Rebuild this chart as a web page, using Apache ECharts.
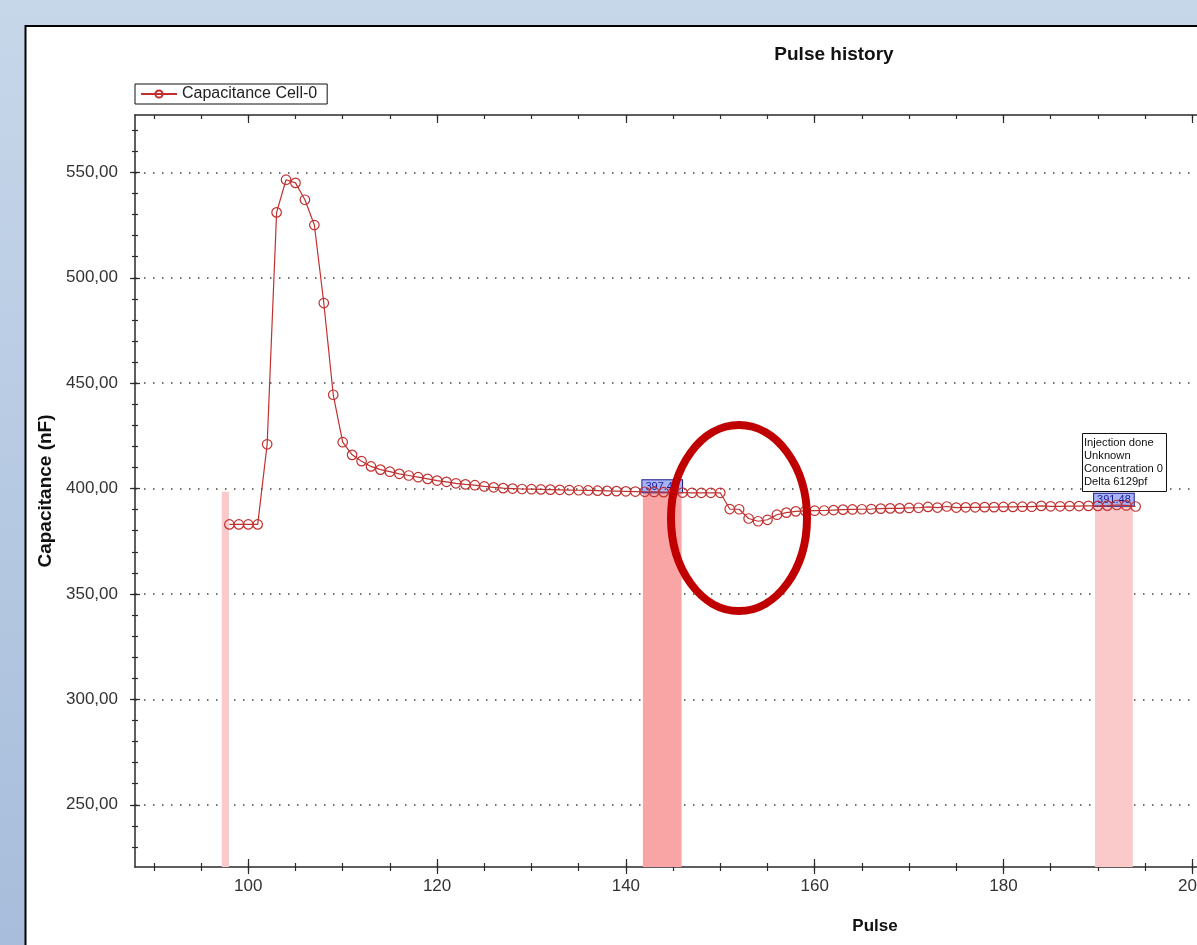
<!DOCTYPE html>
<html>
<head>
<meta charset="utf-8">
<title>Pulse history</title>
<script src="https://cdn.jsdelivr.net/npm/echarts@6/dist/echarts.min.js"></script>
<style>
  html, body { margin: 0; padding: 0; }
  #chart { width: 1197px; height: 945px; }
</style>
</head>
<body>
<div id="chart"></div>
<script>
  // pulse numbers and capacitance readings (nF)
  const pulses = []
  for (let p = 98; p <= 194; p++) pulses.push(p)
  const capacitance = [
    383, 383, 383, 383, 421, 531, 546.5, 545, 537, 525,
    488, 444.5, 422, 416, 413, 410.5, 409, 408, 407, 406.2,
    405.4, 404.6, 403.8, 403.2, 402.5, 402, 401.6, 401, 400.6, 400.2,
    400, 399.8, 399.7, 399.6, 399.5, 399.4, 399.3, 399.2, 399.1, 399,
    398.9, 398.8, 398.7, 398.6, 398.5, 398.4, 398.3, 398.2, 398.1, 398,
    398, 398, 398, 390.3, 390.2, 385.8, 384.5, 385.2, 387.6, 388.6,
    389.2, 389.4, 389.5, 389.6, 389.8, 390, 390.1, 390.2, 390.3, 390.5,
    390.6, 390.6, 390.8, 390.9, 391.3, 391, 391.5, 391, 391.1, 391.1,
    391.2, 391.2, 391.3, 391.3, 391.4, 391.4, 391.8, 391.6, 391.6, 391.7,
    391.7, 391.8, 391.8, 391.9, 392.2, 392, 391.5
  ]

  // highlighted pulse ranges
  const bandStart = [97.2, 141.8, 189.7]
  const bandEnd = [97.95, 145.9, 193.7]
  const bandTop = [398.5, 398.3, 391.8]
  const bandLabel = ['', '397.45', '391.48']
  const bandColor = ['#fac9c9', '#f9a5a5', '#fac9c9']

  // axis ranges and ticks
  const xMin = 88, xMax = 200.5
  const yMin = 220.5, yMax = 577.2
  const xMajor = [100, 120, 140, 160, 180, 200]
  const xMinor = []
  for (let v = 90; v <= 200; v += 5) xMinor.push(v)
  const yMajor = [250, 300, 350, 400, 450, 500, 550]
  const yMinor = []
  for (let v = 230; v <= 570; v += 10) yMinor.push(v)

  const FONT = 'Liberation Sans, Arial, sans-serif'
  const AXIS_COLOR = '#2a2a2a'
  const LINE_RED = '#c0302f'

  const chart = echarts.init(document.getElementById('chart'))

  // extra axis only used to draw tick marks
  function tickAxis(kind, pos, ticks, len, inside, showLine) {
    return {
      type: 'value',
      position: pos,
      min: kind === 'x' ? xMin : yMin,
      max: kind === 'x' ? xMax : yMax,
      axisLine: { show: !!showLine, onZero: false, lineStyle: { color: AXIS_COLOR, width: 1.5 } },
      axisTick: { show: true, inside: inside, length: len, customValues: ticks, lineStyle: { color: AXIS_COLOR, width: 1.2 } },
      axisLabel: { show: false },
      splitLine: { show: false },
    }
  }

  const bands = bandStart.map((s, i) => [
    {
      name: bandLabel[i],
      xAxis: s,
      yAxis: yMin,
      itemStyle: { color: bandColor[i] },
      label: { show: bandLabel[i] !== '' },
    },
    { xAxis: bandEnd[i], yAxis: bandTop[i] },
  ])

  const option = {
    animation: false,
    backgroundColor: new echarts.graphic.LinearGradient(0, 0, 0, 1, [
      { offset: 0, color: '#c7d7ea' },
      { offset: 1, color: '#a7bddb' },
    ]),
    textStyle: { fontFamily: FONT },
    grid: { left: 135, right: 0, top: 115, bottom: 78, outerBoundsMode: 'none', containLabel: false },
    legend: {
      left: 135,
      top: 84,
      padding: [2, 10, 2, 5],
      borderColor: '#111',
      borderWidth: 1,
      backgroundColor: '#fff',
      itemWidth: 36,
      itemHeight: 9,
      itemGap: 6,
      textStyle: { fontSize: 16, color: '#222' },
      data: ['Capacitance Cell-0'],
    },
    xAxis: [
      {
        type: 'value',
        min: xMin,
        max: xMax,
        axisLine: { onZero: false, lineStyle: { color: AXIS_COLOR, width: 1.5 } },
        axisTick: { length: 7, customValues: xMajor, lineStyle: { color: AXIS_COLOR, width: 1.2 } },
        axisLabel: { customValues: xMajor, margin: 11, fontSize: 17, color: '#333' },
        splitLine: { show: false },
      },
      tickAxis('x', 'bottom', xMajor, 8, true),
      tickAxis('x', 'bottom', xMinor, 4, false),
      tickAxis('x', 'bottom', xMinor, 4, true),
      tickAxis('x', 'top', xMinor, 4, true, true),
      tickAxis('x', 'top', xMajor, 8, true),
    ],
    yAxis: [
      {
        type: 'value',
        min: yMin,
        max: yMax,
        name: 'Capacitance (nF)',
        nameLocation: 'middle',
        nameGap: 78,
        nameTextStyle: { fontSize: 19, fontWeight: 'bold', color: '#111' },
        axisLine: { onZero: false, lineStyle: { color: AXIS_COLOR, width: 1.5 } },
        axisTick: { length: 5, customValues: yMajor, lineStyle: { color: AXIS_COLOR, width: 1.2 } },
        axisLabel: {
          customValues: yMajor,
          margin: 17,
          fontSize: 17,
          color: '#333',
          formatter: (v) => v.toFixed(2).replace('.', ','),
        },
        splitLine: { show: true, lineStyle: { color: '#444', width: 1.5, type: [1.5, 7.5] } },
      },
      tickAxis('y', 'left', yMajor, 5, true),
      tickAxis('y', 'left', yMinor, 3, false),
      tickAxis('y', 'left', yMinor, 3, true),
    ],
    series: [
      {
        name: 'Capacitance Cell-0',
        type: 'line',
        data: pulses.map((p, i) => [p, capacitance[i]]),
        symbol: 'circle',
        symbolSize: 9.5,
        lineStyle: { color: LINE_RED, width: 1.2 },
        itemStyle: { color: 'rgba(255,255,255,0)', borderColor: LINE_RED, borderWidth: 1.2 },
        markArea: {
          silent: true,
          label: {
            position: 'top',
            distance: 0,
            formatter: '{b}',
            fontSize: 11,
            color: '#1b1b9c',
            backgroundColor: '#a8b4f4',
            borderColor: '#1b1b8a',
            borderWidth: 1,
            padding: [1, 3, 0, 3],
          },
          data: bands,
        },
      },
    ],
    graphic: [
      // white chart panel with its frame
      {
        type: 'rect',
        z: -10,
        shape: { x: 25.5, y: 26, width: 1300, height: 1000 },
        style: { fill: '#fff', stroke: '#000', lineWidth: 2 },
      },
      {
        type: 'text',
        x: 834,
        y: 55,
        style: {
          text: 'Pulse history',
          fontSize: 19,
          fontWeight: 'bold',
          fill: '#111',
          align: 'center',
          verticalAlign: 'middle',
          fontFamily: FONT,
        },
      },
      {
        type: 'text',
        x: 875,
        y: 926,
        style: {
          text: 'Pulse',
          fontSize: 17,
          fontWeight: 'bold',
          fill: '#111',
          align: 'center',
          verticalAlign: 'middle',
          fontFamily: FONT,
        },
      },
      // injection note
      {
        type: 'rect',
        z: 100,
        shape: { x: 1082.5, y: 433.5, width: 84, height: 58 },
        style: { fill: '#fff', stroke: '#111', lineWidth: 1 },
      },
      {
        type: 'text',
        z: 101,
        x: 1084,
        y: 436,
        style: {
          text: 'Injection done\nUnknown\nConcentration 0\nDelta 6129pf',
          fontSize: 11.2,
          lineHeight: 13,
          fill: '#111',
          fontFamily: FONT,
        },
      },
      // hand-drawn highlight
      {
        type: 'ellipse',
        z: 110,
        shape: { cx: 739, cy: 518, rx: 68, ry: 93 },
        style: { fill: 'none', stroke: '#c00000', lineWidth: 8 },
      },
    ],
  }

  chart.setOption(option)
</script>
</body>
</html>
